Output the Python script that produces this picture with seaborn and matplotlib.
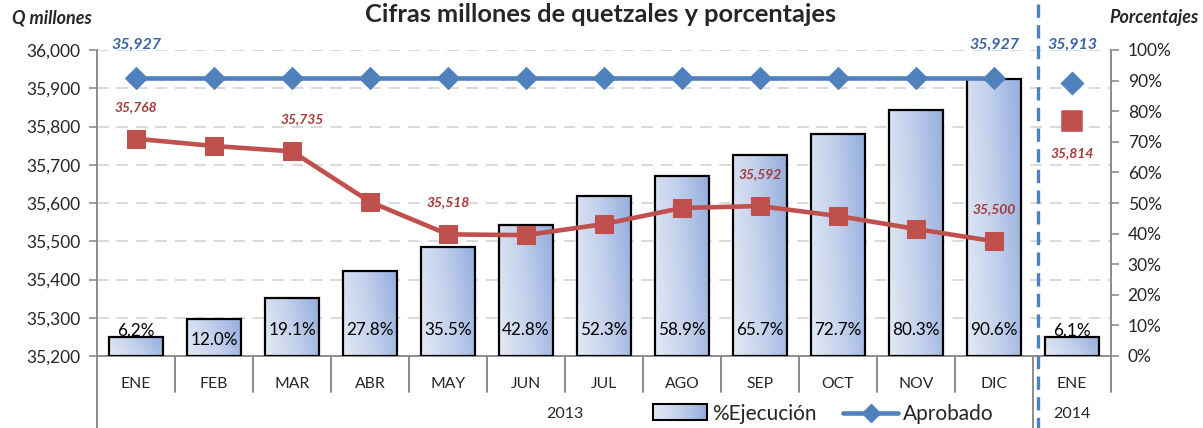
import numpy as np
import pandas as pd
import matplotlib
matplotlib.use("Agg")
import matplotlib.pyplot as plt
import matplotlib.transforms as mtransforms
from matplotlib.patches import Rectangle, Patch
from matplotlib.lines import Line2D
from matplotlib.legend_handler import HandlerBase
from matplotlib.colors import LinearSegmentedColormap
import seaborn as sns

# ---------------- data ----------------
months = ["ENE", "FEB", "MAR", "ABR", "MAY", "JUN", "JUL", "AGO", "SEP", "OCT", "NOV", "DIC", "ENE"]
years = ["2013", "2014"]
ejecucion = [6.2, 12.0, 19.1, 27.8, 35.5, 42.8, 52.3, 58.9, 65.7, 72.7, 80.3, 90.6, 6.1]   # %
aprobado_2013 = [35927] * 12
aprobado_2014 = 35913
vigente_2013 = [35768, 35749, 35735, 35603, 35518, 35516, 35545, 35587, 35592, 35566, 35532, 35500]
vigente_2014 = 35814
vigente_labeled = [0, 2, 4, 8, 11]
aprobado_labeled = [0, 11]
left_ticks = list(range(35200, 36001, 100))
right_ticks = [i / 10 for i in range(0, 11)]

title = "Cifras millones de quetzales y porcentajes"

# ---------------- style ----------------
sns.set_style("white")
plt.rcParams["font.family"] = ["Lato", "DejaVu Sans"]

BLUE = "#4F81BD"
RED = "#C0504D"
BLUE_TXT = "#3B64A5"
RED_TXT = "#A23B3A"
GRAY = "#8C8C8C"

W, H = 1203, 428
fig = plt.figure(figsize=(W / 100, H / 100), dpi=100)
ax = fig.add_axes([97 / W, 1 - 356 / H, (1111 - 97) / W, 306 / H])

# bars on primary axis (percent scale), lines on twin (millions)
df = pd.DataFrame({"pos": np.arange(len(months)), "pct": np.array(ejecucion) / 100})
sns.barplot(data=df, x="pos", y="pct", ax=ax, width=0.68, color="#B4C6E7",
            edgecolor="black", linewidth=1.6, zorder=2)
ax.set_xlim(-0.5, len(months) - 0.5)
ax.set_ylim(0, 1)

# gradient fill for bars
cmap = LinearSegmentedColormap.from_list("g", ["#E3E9F5", "#C3D1EC", "#94AEDD"])
xx, yy = np.meshgrid(np.linspace(0, 1, 60), np.linspace(0, 1, 60))
grad = np.clip(0.8 * xx + 0.2 * yy, 0, 1)
for p in list(ax.patches):
    x0, w, h = p.get_x(), p.get_width(), p.get_height()
    p.set_facecolor("none")
    p.set_zorder(3)
    im = ax.imshow(grad, cmap=cmap, extent=[x0, x0 + w, 0, h], origin="lower",
                   aspect="auto", zorder=2, interpolation="bilinear")
    im.set_clip_path(p)
ax.set_xlim(-0.5, len(months) - 0.5)
ax.set_ylim(0, 1)
ax.set_aspect("auto")

# bar labels
for i, v in enumerate(ejecucion):
    f = v / 100
    if f < 0.1:
        y, va = f - 0.006, "bottom"
    elif f < 0.17:
        y, va = 0.052, "center"
    else:
        y, va = 0.085, "center"
    ax.text(i, y, f"{v:.1f}%", ha="center", va=va, fontsize=12.3, color="black", zorder=5)

# gridlines (from left axis scale) behind bars
lo, hi = left_ticks[0], left_ticks[-1]
for t in left_ticks[1:]:
    ax.axhline((t - lo) / (hi - lo), color="#D9D9D9", lw=1.4, ls=(0, (6, 4)), zorder=0.5)

ax2 = ax.twinx()
ax2.set_ylim(lo, hi)
n13 = len(aprobado_2013)
sns.lineplot(x=np.arange(n13), y=aprobado_2013, ax=ax2, color=BLUE, lw=3.3,
             marker="D", markersize=11, markeredgecolor=BLUE, zorder=6)
sns.lineplot(x=np.arange(n13), y=vigente_2013, ax=ax2, color=RED, lw=3.3,
             marker="s", markersize=13, markeredgecolor=RED, zorder=5)
sns.scatterplot(x=[n13], y=[aprobado_2014], ax=ax2, color=BLUE, marker="D", s=130,
                edgecolor=BLUE, zorder=6)
sns.scatterplot(x=[n13], y=[vigente_2014], ax=ax2, color=RED, marker="s", s=190,
                edgecolor=RED, zorder=6)
ax2.set_xlim(-0.5, len(months) - 0.5)
ax2.set_ylim(lo, hi)

lab_kw = dict(ha="center", va="center", fontweight="bold",
              fontstyle="italic", textcoords="offset points", annotation_clip=False)
for i in aprobado_labeled:
    ax2.annotate(f"{aprobado_2013[i]:,}", (i, aprobado_2013[i]), xytext=(0, 24),
                 color=BLUE_TXT, fontsize=11.5, **lab_kw)
ax2.annotate(f"{aprobado_2014:,}", (n13, aprobado_2014), xytext=(0, 28),
             color=BLUE_TXT, fontsize=11.5, **lab_kw)
for i in vigente_labeled:
    dx = 7 if i == 2 else 0
    ax2.annotate(f"{vigente_2013[i]:,}", (i, vigente_2013[i]), xytext=(dx, 23),
                 color=RED_TXT, fontsize=10, **lab_kw)
ax2.annotate(f"{vigente_2014:,}", (n13, vigente_2014), xytext=(0, -23),
             color=RED_TXT, fontsize=10, **lab_kw)

# axes: left = millions (ax2), right = percent (ax)
ax2.yaxis.tick_left()
ax2.yaxis.set_label_position("left")
ax.yaxis.tick_right()
ax2.set_yticks(left_ticks)
ax2.set_yticklabels([f"{t:,}" for t in left_ticks])
ax.set_yticks(right_ticks)
ax.set_yticklabels([f"{int(round(t * 100))}%" for t in right_ticks])
ax.set_xticks(range(len(months)))
ax.set_xticklabels(months)
ax.tick_params(axis="x", length=0, pad=15, labelsize=11.3)
ax.tick_params(axis="y", length=6, width=1.2, color=GRAY, labelsize=12.5, pad=6, direction="out")
ax2.tick_params(axis="y", length=6, width=1.2, color=GRAY, labelsize=12.5, pad=6, direction="out")
ax.set_xlabel("")
ax.set_ylabel("")
ax2.set_ylabel("")

for a in (ax, ax2):
    for s in a.spines.values():
        s.set_visible(False)
ax.spines["bottom"].set_visible(True)
ax.spines["bottom"].set_color(GRAY)
ax.spines["bottom"].set_linewidth(1.4)
ax.spines["right"].set_visible(True)
ax.spines["right"].set_color(GRAY)
ax.spines["right"].set_linewidth(1.4)
ax2.spines["left"].set_visible(True)
ax2.spines["left"].set_color(GRAY)
ax2.spines["left"].set_linewidth(1.4)

# category separators below axis
bt = mtransforms.blended_transform_factory(ax.transData, ax.transAxes)
short = -(392 - 356) / 306
full = -(428 - 356) / 306
for k in list(np.arange(0.5, 11, 1.0)) + [12.5]:
    ax.plot([k, k], [0, short], color=GRAY, lw=1.4, transform=bt, clip_on=False)
for k in [-0.5, 11.5]:
    ax.plot([k, k], [0, full], color=GRAY, lw=1.4, transform=bt, clip_on=False)
ax.plot([11.565, 11.565], [(356 - 4) / 306, full], color=BLUE, lw=2.4,
        ls=(0, (4, 2.2)), transform=bt, clip_on=False, zorder=7)

# year labels
ax.text(5.5, -(414 - 356) / 306, years[0], transform=bt, ha="center", va="center", fontsize=11.5)
ax.text(12, -(414 - 356) / 306, years[1], transform=bt, ha="center", va="center", fontsize=11.5)

# titles
fig.text(601 / W, 1 - 15 / H, title, ha="center", va="center", fontsize=18.3, fontweight="bold")
fig.text(12 / W, 1 - 18 / H, "Q millones", ha="left", va="center", fontsize=13,
         fontweight="bold", fontstyle="italic")
fig.text(1154 / W, 1 - 18 / H, "Porcentajes", ha="center", va="center", fontsize=13,
         fontweight="bold", fontstyle="italic")


# legend
class GradHandler(HandlerBase):
    def create_artists(self, legend, orig, xd, yd, w, h, fontsize, trans):
        arts = []
        n = 24
        for i in range(n):
            arts.append(Rectangle((xd + w * i / n, yd), w / n * 1.05, h,
                                  facecolor=cmap(i / (n - 1)), edgecolor="none", transform=trans))
        arts.append(Rectangle((xd, yd), w, h, facecolor="none", edgecolor="black",
                              lw=1.5, transform=trans))
        return arts


bar_handle = Patch()
line_handle = Line2D([], [], color=BLUE, lw=3.3, marker="D", markersize=9)
fig.legend([bar_handle, line_handle], ["%Ejecución", "Aprobado"], loc="center",
           bbox_to_anchor=(823 / W, 1 - 414 / H), ncol=2, frameon=False, fontsize=15,
           handlelength=2.6, handleheight=0.75, handletextpad=0.25, columnspacing=1.3,
           borderpad=0, handler_map={bar_handle: GradHandler()})

fig.savefig("out.png", dpi=100)
